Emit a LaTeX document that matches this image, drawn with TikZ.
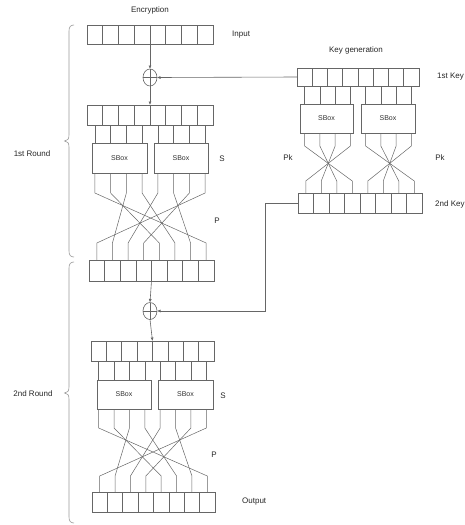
\documentclass[tikz,border=0pt]{standalone}
\usepackage{fontspec}
\setmainfont{Liberation Sans}
\usetikzlibrary{shapes.geometric,arrows.meta,calc}
\newcommand\mkreg[5]{% name, x0, x1, ytop, ybot
  \pgfmathsetmacro\cw{(#3-#2)/8}%
  \pgfmathsetmacro\ch{#5-#4}%
  \pgfmathsetmacro\cy{(#4+#5)/2}%
  \foreach \i in {1,...,8}{%
    \pgfmathsetmacro\cx{#2+(\i-0.5)*\cw}%
    \node[cell, minimum width=\cw pt, minimum height=\ch pt] (#1-\i) at (\cx,\cy) {};
  }%
}
\tikzset{
  cell/.style={rectangle, draw=black!60, line width=0.6pt, inner sep=0pt, outer sep=0pt},
  sbox/.style={rectangle, draw=black!60, line width=0.6pt, fill=white, inner sep=0pt,
               font=\fontsize{7}{8}\selectfont, text=black!80},
  xorc/.style={ellipse, draw=black!60, line width=0.6pt, minimum width=14pt,
               minimum height=17pt, inner sep=0pt, outer sep=0pt},
  lbl/.style={font=\fontsize{8}{9}\selectfont, text=black!85, inner sep=0pt},
  wire/.style={draw=black!60, line width=0.5pt},
  arr/.style={draw=black!60, line width=0.6pt, -{Latex[length=3.5pt,width=3pt]}},
  brc/.style={draw=black!40, line width=0.6pt}
}
\begin{document}
\begin{tikzpicture}[x=1pt,y=-1pt]
\useasboundingbox (0,0) rectangle (464,525);

% ---------- labels ----------
\node[lbl] (tenc) at (150,10) {Encryption};
\node[lbl, anchor=west] (tin) at (232,35) {Input};
\node[lbl] (tkg) at (356,50) {Key generation};
\node[lbl, anchor=west] (tk1) at (437,77) {1st Key};
\node[lbl, anchor=west] (tk2) at (435,204) {2nd Key};
\node[lbl] (tpk1) at (288,158) {Pk};
\node[lbl] (tpk2) at (440,158) {Pk};
\node[lbl] (ts1) at (222,159) {S};
\node[lbl] (tp1) at (217,221) {P};
\node[lbl] (ts2) at (223,396) {S};
\node[lbl] (tp2) at (214,455) {P};
\node[lbl, anchor=west] (tout) at (242,502) {Output};
\node[lbl] (tr1) at (32,154) {1st Round};
\node[lbl] (tr2) at (33,394) {2nd Round};

% ---------- registers ----------
\mkreg{r1}{87}{213}{25}{44}
\mkreg{r2}{87}{213}{105}{125}
\mkreg{r3}{89}{214}{260}{281}
\mkreg{r4}{91}{214}{341}{361}
\mkreg{r5}{92}{215}{492}{512}
\mkreg{k1}{297}{419}{68}{86}
\mkreg{k2}{298}{422}{193}{213}

% ---------- S-boxes ----------
\node[sbox, minimum width=55pt, minimum height=30pt] (sA1) at (119.5,158) {SBox};
\node[sbox, minimum width=54pt, minimum height=30pt] (sB1) at (181,158) {SBox};
\node[sbox, minimum width=54pt, minimum height=29pt] (sA2) at (124,394.5) {SBox};
\node[sbox, minimum width=55pt, minimum height=29pt] (sB2) at (185.5,394.5) {SBox};
\node[sbox, minimum width=53pt, minimum height=29pt] (kA) at (326.5,118.5) {SBox};
\node[sbox, minimum width=54pt, minimum height=29pt] (kB) at (388,118.5) {SBox};

% ---------- XORs ----------
\node[xorc] (x1) at (150,77.5) {};
\draw[wire] (x1.north) -- (x1.south) (x1.west) -- (x1.east);
\node[xorc] (x2) at (150,311) {};
\draw[wire] (x2.north) -- (x2.south) (x2.west) -- (x2.east);

% ---------- bend levels ----------
\coordinate (t1) at (0,193);
\coordinate (u1) at (0,243);
\coordinate (t2) at (0,428);
\coordinate (u2) at (0,476);
\coordinate (tk) at (0,146);
\coordinate (uk) at (0,181);
\coordinate (kc) at (265,311);

% ---------- arrows ----------
\draw[arr] (r1-4.south east) -- (x1.north);
\draw[arr] (x1.south) -- (r2-4.north east);
\draw[arr] (k1-1.west) -- (x1.east);
\draw[arr] (r3-4.south east) -- (x2.north);
\draw[arr] (x2.south) -- (r4-4.north east);
\draw[arr] (k2-1.west) -| (kc) -- (x2.east);

% ---------- round 1 wires ----------
\foreach \i in {1,...,8}{
  \draw[wire] (r2-\i.south) -- (r2-\i.south |- sA1.north);
}
\foreach \i/\j in {1/8,2/5,3/2,4/6,5/3,6/7,7/4,8/1}{
  \draw[wire] (r2-\i.south |- sA1.south) -- (r2-\i.south |- t1)
              -- (r3-\j.north |- u1) -- (r3-\j.north);
}

% ---------- round 2 wires ----------
\foreach \i in {1,...,8}{
  \draw[wire] (r4-\i.south) -- (r4-\i.south |- sA2.north);
}
\foreach \i/\j in {1/8,2/5,3/2,4/6,5/3,6/7,7/4,8/1}{
  \draw[wire] (r4-\i.south |- sA2.south) -- (r4-\i.south |- t2)
              -- (r5-\j.north |- u2) -- (r5-\j.north);
}

% ---------- key generation wires ----------
\foreach \i in {1,...,8}{
  \draw[wire] (k1-\i.south) -- (k1-\i.south |- kA.north);
}
\foreach \i/\j in {1/4,2/3,3/2,4/1,5/8,6/7,7/6,8/5}{
  \draw[wire] (k1-\i.south |- kA.south) -- (k1-\i.south |- tk)
              -- (k2-\j.north |- uk) -- (k2-\j.north);
}

% ---------- braces ----------
\draw[brc] (74,25) .. controls (70.5,25) and (69,27) .. (69,31) -- (69,135)
  .. controls (69,139) and (67.5,141) .. (64.5,141)
  .. controls (67.5,141) and (69,143) .. (69,147) -- (69,251)
  .. controls (69,255) and (70.5,257) .. (74,257);
\draw[brc] (74,262) .. controls (70.5,262) and (69,264) .. (69,268) -- (69,387)
  .. controls (69,391) and (67.5,393) .. (64.5,393)
  .. controls (67.5,393) and (69,395) .. (69,399) -- (69,517)
  .. controls (69,521) and (70.5,523) .. (74,523);
\end{tikzpicture}
\end{document}
